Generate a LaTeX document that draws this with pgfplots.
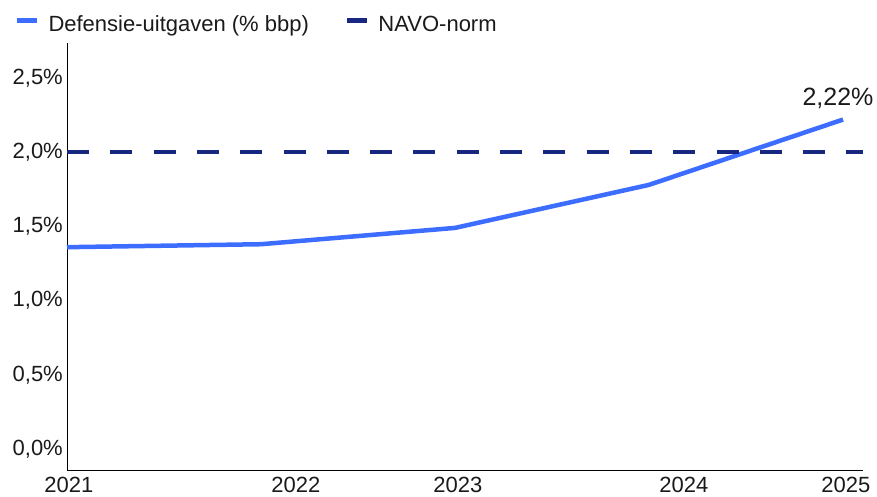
\documentclass[border=0pt]{standalone}
\usepackage{pgfplots}
\pgfplotsset{compat=1.18}
\usepackage{fontspec}
\setmainfont{Liberation Sans}
\definecolor{lineblue}{HTML}{3D6DFF}
\definecolor{navy}{HTML}{18277F}
\definecolor{txt}{HTML}{1A1A1A}
\begin{document}
\begin{tikzpicture}
\path[use as bounding box] (-67bp,-27bp) rectangle (810bp,470bp);
\begin{axis}[
  at={(0,0)}, anchor=south west,
  scale only axis, width=796bp, height=427bp,
  xmin=0, xmax=4.103, ymin=-0.1415, ymax=2.736,
  axis lines=left,
  axis line style={-, black, line width=0.9bp},
  xtick={0.01,1.18,2.015,3.18,4.015},
  xticklabels={2021,2022,2023,2024,2025},
  ytick={0,0.5,1,1.5,2,2.5},
  yticklabels={{0,0\%},{0,5\%},{1,0\%},{1,5\%},{2,0\%},{2,5\%}},
  major tick length=0pt,
  tick label style={font=\fontsize{22bp}{26bp}\selectfont, text=txt},
  yticklabel style={inner sep=0pt, xshift=-4bp},
  xticklabel style={inner sep=0pt, yshift=-7bp},
  clip=false,
  legend columns=2,
  legend style={at={(axis description cs:-0.0653,1.0644)}, anchor=north west,
    draw=none, fill=none, inner sep=0pt, outer sep=0pt,
    font=\fontsize{22bp}{26bp}\selectfont, text=txt,
    nodes={inner sep=0pt},
    /tikz/every odd column/.append style={column sep=9bp},
    /tikz/every even column/.append style={column sep=36bp}},
  legend image code/.code={\draw[#1, solid, line width=4.5bp] (0bp,0.35em) -- (20bp,0.35em);},
]
\addplot[lineblue, line width=4.5bp, line join=round] coordinates {(0,1.36) (1,1.38) (2,1.49) (3,1.78) (4,2.22)};
\addlegendentry{Defensie-uitgaven (\% bbp)}
\addplot[navy, line width=4.5bp, dash pattern=on 22bp off 21.3bp] coordinates {(0,2) (4.103,2)};
\addlegendentry{NAVO-norm}
\node[anchor=base, font=\fontsize{25bp}{28bp}\selectfont, text=txt, xshift=-5bp, yshift=14bp] at (axis cs:4,2.22) {2,22\%};
\end{axis}
\end{tikzpicture}
\end{document}
